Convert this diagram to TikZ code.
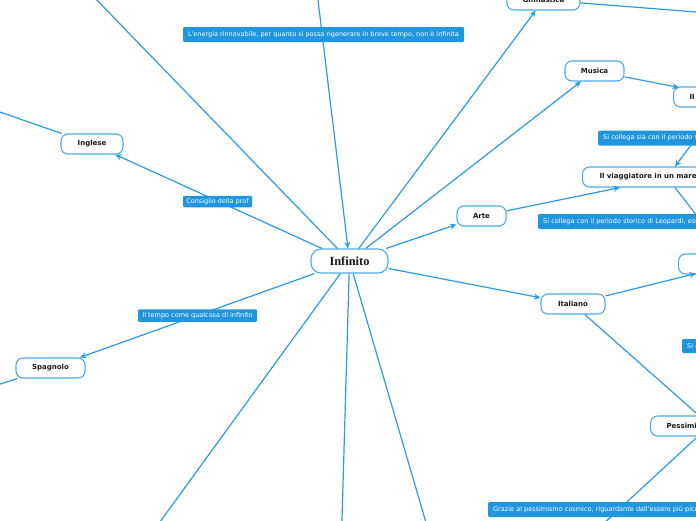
\documentclass[tikz,border=0pt]{standalone}
\usepackage{fontspec}
\usetikzlibrary{arrows.meta,calc}
\newfontfamily\topicfont{DejaVu Sans}
\newfontfamily\rootfont{Liberation Serif}
\definecolor{lineblue}{HTML}{2B9BE3}
\definecolor{borderblue}{HTML}{4DAAEA}
\definecolor{lblblue}{HTML}{1F96DE}
\tikzset{
  topic/.style={draw=borderblue, line width=1.1pt, fill=white, rounded corners=7pt,
    font=\topicfont\bfseries\fontsize{7}{8}\selectfont, minimum height=20pt, inner sep=0pt, text=black!90},
  cuttopic/.style={topic, anchor=west, align=left, inner xsep=#1, text width=140pt},
  lbl/.style={fill=lblblue, text=white, rounded corners=1.2pt,
    font=\topicfont\fontsize{6.5}{7.5}\selectfont, inner sep=0pt},
  cutlbl/.style={lbl, anchor=west, align=left, inner xsep=5pt, text width=290pt, minimum height=15pt},
  conn/.style={draw=lineblue, line width=1.2pt},
  arr/.style={conn, -{Stealth[length=6.5pt,width=6pt]}},
}
\begin{document}
\begin{tikzpicture}[x=1pt,y=-1pt]
\useasboundingbox (0,0) rectangle (696,520);
\clip (0,0) rectangle (696,520);
% topic nodes
\node[topic, minimum width=77pt, minimum height=24pt, rounded corners=10pt,
  font=\rootfont\bfseries\fontsize{12.4}{14}\selectfont] (inf) at (349.5,261) {Infinito};
\node[topic, minimum width=62pt] (ingl) at (92,144) {Inglese};
\node[topic, minimum width=69pt] (spag) at (50.5,368) {Spagnolo};
\node[topic, minimum width=49pt] (arte) at (481.5,216) {Arte};
\node[topic, minimum width=64pt] (ital) at (573,304) {Italiano};
\node[topic, minimum width=59pt] (mus) at (594.5,71) {Musica};
\node[topic, minimum width=73pt] (ginn) at (543.5,0) {Ginnastica};
\node[cuttopic=17pt] (viag) at (582,177) {Il viaggiatore in un mare};
\node[cuttopic=16pt] (ilmus) at (673,97) {Il};
\node[cuttopic=17pt] (ital2) at (678,264) {I};
\node[cuttopic=16pt] (pess) at (650,426) {Pessimismo};
% free ends
\coordinate (ctl) at (92,-5);
\coordinate (ctop) at (317.4,-5);
\coordinate (cingl) at (-6,110);
\coordinate (cspag) at (-6,386);
\coordinate (cbl) at (157,526);
\coordinate (cb) at (341.8,526);
\coordinate (cbr) at (427,526);
\coordinate (cginn) at (704,12.6);
\coordinate (tital2) at (696,273.5);
\coordinate (csia) at (703,129);
\coordinate (ccon) at (707,229);
\coordinate (cpessin) at (704,420);
\coordinate (cpess) at (701,433.5);
\coordinate (cgraz) at (602,525);
% connectors
\draw[conn] (inf) -- (ctl);
\draw[arr] (ctop) -- (inf);
\draw[arr] (inf) -- (ingl);
\draw[conn] (ingl) -- (cingl);
\draw[arr] (inf) -- (spag);
\draw[conn] (spag) -- (cspag);
\draw[conn] (inf) -- (cbl);
\draw[conn] (inf) -- (cb);
\draw[conn] (inf) -- (cbr);
\draw[arr] (inf) -- (ital);
\draw[arr] (ital) -- (tital2);
\draw[conn] (ital) -- (cpessin);
\draw[conn] (cpess) -- (cgraz);
\draw[arr] (inf) -- (arte);
\draw[arr] (arte) -- ($(viag.south west)+(38,0)$);
\draw[arr] (csia) -- ($(viag.north west)+(93,0)$);
\draw[conn] ($(viag.south west)+(93,0)$) -- (ccon);
\draw[arr] (inf) -- (mus);
\draw[arr] (mus) -- ($(ilmus.north west)+(6,1)$);
\draw[arr] (inf) -- (ginn);
\draw[conn] (ginn) -- (cginn);
% labels
\node[lbl, minimum width=281pt, minimum height=15pt] (lener) at (323.5,34.5)
  {L\textquotesingle energia rinnovabile, per quanto si possa rigenerare in breve tempo, non è infinita};
\node[lbl, minimum width=69pt, minimum height=11.5pt] (lcons) at (217.5,201.5) {Consiglio della prof};
\node[lbl, minimum width=119pt, minimum height=12.5pt] (ltempo) at (197.5,315.5) {Il tempo come qualcosa di infinito};
\node[cutlbl] (lsia) at (598,138) {Si collega sia con il periodo s};
\node[cutlbl] (lcon) at (538,221.5) {Si collega con il periodo storico di Leopardi, ess};
\node[cutlbl, minimum height=14pt] (lsic) at (682,346) {Si c};
\node[cutlbl] (lgraz) at (488,509.5) {Grazie al pessimismo cosmico, riguardante dall\textquotesingle essere più picc};
\end{tikzpicture}
\end{document}
